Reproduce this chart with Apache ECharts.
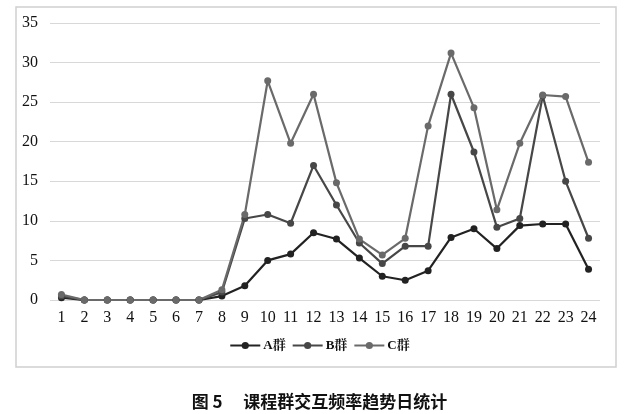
<!DOCTYPE html>
<html><head><meta charset="utf-8">
<script src="https://cdn.jsdelivr.net/npm/echarts@6/dist/echarts.min.js"></script>
<style>html,body{margin:0;padding:0;background:#fff}#c{width:639px;height:414px}</style>
</head><body><div id="c"></div>
<script>
const categories = ['1','2','3','4','5','6','7','8','9','10','11','12','13','14','15','16','17','18','19','20','21','22','23','24'];
const seriesA = [0.3,0,0,0,0,0,0,0.5,1.8,5,5.8,8.5,7.7,5.3,3,2.5,3.7,7.9,9,6.5,9.4,9.6,9.6,3.9];
const seriesB = [0.5,0,0,0,0,0,0,1,10.3,10.8,9.7,17,12,7.2,4.6,6.8,6.8,26,18.7,9.2,10.3,25.8,15,7.8];
const seriesC = [0.7,0,0,0,0,0,0,1.3,10.8,27.7,19.8,26,14.8,7.7,5.7,7.8,22,31.2,24.3,11.4,19.8,25.9,25.7,17.4];
const yTicks = [0,5,10,15,20,25,30,35];
const names = ['A群','B群','C群'];
const colors = ['#222222','#474747','#6a6a6a'];
const serif = '"Liberation Serif","Noto Serif CJK SC","Noto Sans CJK SC",serif';
const chart = echarts.init(document.getElementById('c'));
function mk(name, data, color){
  return {name, type:'line', data, symbol:'circle', symbolSize:7,
    lineStyle:{width:2.2,color}, itemStyle:{color}, emphasis:{disabled:true}, animation:false};
}
chart.setOption({
  animation:false,
  backgroundColor:'#fff',
  grid:{left:50,right:39,top:23,bottom:114},
  xAxis:{type:'category',data:categories,boundaryGap:true,
    axisLine:{show:false},axisTick:{show:false},
    axisLabel:{color:'#111',fontFamily:serif,fontSize:16,margin:10}},
  yAxis:{type:'value',min:yTicks[0],max:yTicks[yTicks.length-1],interval:5,
    axisLabel:{color:'#111',fontFamily:serif,fontSize:16,margin:12},
    splitLine:{lineStyle:{color:'#d8d8d8',width:1}},
    axisLine:{show:false},axisTick:{show:false}},
  legend:{data:names,bottom:57,left:'center',itemWidth:30,itemHeight:9,itemGap:6,
    textStyle:{color:'#111',fontFamily:serif,fontSize:13,fontWeight:'bold',padding:[0,0,0,-2]}},
  series:[mk(names[0],seriesA,colors[0]),mk(names[1],seriesB,colors[1]),mk(names[2],seriesC,colors[2])],
  graphic:[
    {type:'rect',shape:{x:16,y:7,width:600,height:360},style:{fill:'none',stroke:'#d0d0d0',lineWidth:1.5},silent:true,z:-1},
    {type:'text',left:'center',top:393,style:{text:'图 5　 课程群交互频率趋势日统计',fill:'#111',font:'bold 17px "Noto Sans CJK SC","Liberation Serif",sans-serif'}}
  ]
});
</script></body></html>
